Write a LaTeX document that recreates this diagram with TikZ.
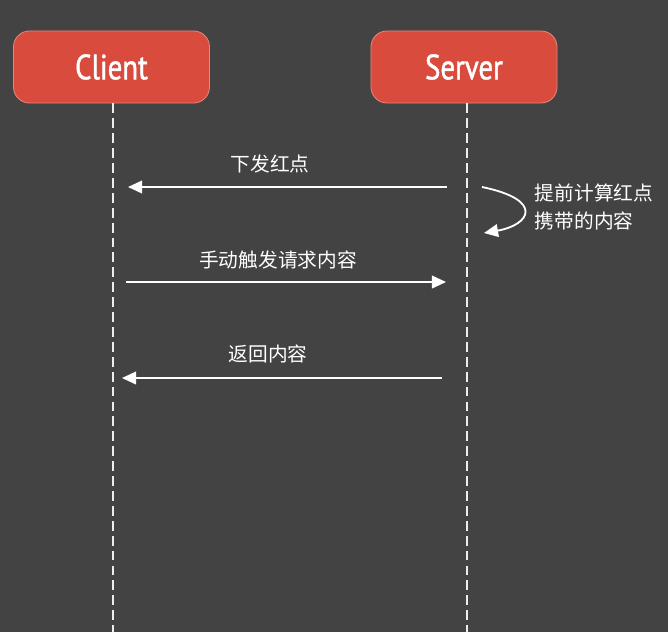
\documentclass[tikz,border=0pt]{standalone}
\usepackage{fontspec}
\setmainfont{PT Sans}
\newfontfamily\actorfont[FakeStretch=0.82,FakeBold=1.2]{PT Sans}
\newfontfamily\cjk{Noto Sans CJK SC}
\usetikzlibrary{arrows.meta,positioning,calc}
\definecolor{SBack}{HTML}{434343}
\definecolor{SRed}{HTML}{D84B3D}
\definecolor{SRedEdge}{HTML}{E58578}
\definecolor{SLine}{HTML}{EDEDED}

\begin{document}
\begin{tikzpicture}[x=0.025cm,y=-0.025cm,
    actor/.style={rectangle,rounded corners=0.4cm,fill=SRed,draw=SRedEdge,
      line width=0.6pt,minimum height=1.8cm,text=white,
      font=\actorfont\fontsize{25}{28}\selectfont},
    lifeline/.style={draw=SLine,line width=1.2pt,dash pattern=on 7pt off 3.6pt},
    msg/.style={draw=white,line width=1.3pt,-{Triangle[length=10pt,width=9pt]}},
    msglabel/.style={text=white,align=left,font=\cjk\fontsize{14}{20}\selectfont}]
  \fill[SBack] (0,0) rectangle (668,632);
  % actors
  \node[actor,minimum width=4.9cm] (client) at (111.5,67) {Client};
  \node[actor,minimum width=4.65cm] (server) at (464,67) {Server};
  % lifelines
  \coordinate (clientend) at (113,632);
  \coordinate (serverend) at (467,632);
  \draw[lifeline] (client.south -| clientend) -- (clientend);
  \draw[lifeline] (server.south -| serverend) -- (serverend);
  % messages
  \coordinate (m1s) at (447,187); \coordinate (m1e) at (128,187);
  \coordinate (m2s) at (126,282); \coordinate (m2e) at (446,282);
  \coordinate (m3s) at (442,378); \coordinate (m3e) at (122,378);
  \draw[msg] (m1s) -- (m1e);
  \draw[msg] (m2s) -- (m2e);
  \draw[msg] (m3s) -- (m3e);
  \node[msglabel] (l1) at (270,164) {下发红点};
  \node[msglabel] (l2) at (278,260) {手动触发请求内容};
  \node[msglabel] (l3) at (268,354) {返回内容};
  % self call
  \coordinate (selfs) at (482,187); \coordinate (selfe) at (484,233);
  \draw[msg] (selfs) .. controls (545,200) and (530,225) .. (selfe);
  \node[msglabel,anchor=west] (l4) at (530,207) {提前计算红点\\携带的内容};
\end{tikzpicture}
\end{document}
